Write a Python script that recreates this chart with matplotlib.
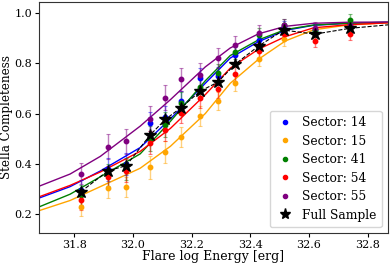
import matplotlib
matplotlib.use("Agg")
import matplotlib.pyplot as plt
from matplotlib.lines import Line2D

plt.rcParams['font.family'] = ['DejaVu Serif']

# ---- data ----
bins = [31.823, 31.915, 31.977, 32.059, 32.111, 32.164, 32.230, 32.289, 32.349, 32.429, 32.514, 32.620, 32.740]

sectors = ["14", "15", "41", "54", "55"]
colors = ["blue", "orange", "green", "red", "purple"]

s14 = [0.298, 0.379, 0.400, 0.561, 0.585, 0.648, 0.740, 0.750, 0.833, 0.892, 0.942, 0.930, 0.945]
s15 = [0.229, 0.303, 0.308, 0.387, 0.448, 0.508, 0.591, 0.650, 0.721, 0.817, 0.894, 0.920, 0.940]
s41 = [0.277, 0.356, 0.380, 0.500, 0.555, 0.640, 0.706, 0.760, 0.845, 0.911, 0.951, 0.930, 0.971]
s54 = [0.257, 0.347, 0.373, 0.485, 0.535, 0.603, 0.660, 0.698, 0.758, 0.850, 0.915, 0.889, 0.916]
s55 = [0.362, 0.468, 0.490, 0.579, 0.663, 0.736, 0.754, 0.820, 0.873, 0.920, 0.951, 0.940, 0.950]

e14 = [0.040, 0.045, 0.045, 0.045, 0.045, 0.040, 0.040, 0.035, 0.030, 0.030, 0.025, 0.025, 0.025]
e15 = [0.035, 0.040, 0.040, 0.045, 0.045, 0.040, 0.040, 0.035, 0.030, 0.030, 0.025, 0.025, 0.025]
e41 = [0.040, 0.045, 0.045, 0.050, 0.050, 0.045, 0.040, 0.035, 0.030, 0.030, 0.025, 0.025, 0.025]
e54 = [0.040, 0.045, 0.045, 0.045, 0.045, 0.040, 0.040, 0.035, 0.030, 0.030, 0.025, 0.025, 0.025]
e55 = [0.040, 0.050, 0.050, 0.050, 0.050, 0.045, 0.045, 0.040, 0.035, 0.030, 0.025, 0.025, 0.025]

full_x = bins + [32.90]
full_y = [0.290, 0.373, 0.393, 0.515, 0.577, 0.623, 0.689, 0.724, 0.796, 0.868, 0.931, 0.915, 0.938, 0.955]

# fitted completeness curves
curve_x = [31.681, 31.786, 31.889, 32.025, 32.128, 32.247, 32.332, 32.428, 32.520, 32.616, 32.732, 32.872]
c14 = [0.265, 0.310, 0.372, 0.465, 0.579, 0.720, 0.820, 0.885, 0.930, 0.950, 0.958, 0.962]
c15 = [0.215, 0.255, 0.310, 0.383, 0.470, 0.600, 0.720, 0.815, 0.888, 0.932, 0.951, 0.960]
c41 = [0.230, 0.280, 0.349, 0.440, 0.569, 0.730, 0.830, 0.892, 0.933, 0.951, 0.958, 0.962]
c54 = [0.270, 0.315, 0.368, 0.450, 0.541, 0.675, 0.780, 0.855, 0.905, 0.940, 0.952, 0.960]
c55 = [0.312, 0.360, 0.430, 0.550, 0.655, 0.785, 0.860, 0.916, 0.946, 0.958, 0.962, 0.963]

vals = [s14, s15, s41, s54, s55]
errs = [e14, e15, e41, e54, e55]
curves = [c14, c15, c41, c54, c55]

# ---- plot ----
fig = plt.figure(figsize=(3.9, 2.66), dpi=100)
ax = fig.add_axes([0.1, 0.123, 0.895, 0.871])

for c, cv in zip(colors, curves):
    ax.plot(curve_x, cv, color=c, lw=1.0, zorder=2)

for c, v, e in zip(colors, vals, errs):
    ax.errorbar(bins, v, yerr=e, fmt='none', ecolor=c, alpha=0.5, elinewidth=1.0,
                capsize=1.5, capthick=0.8, zorder=3)
    ax.plot(bins, v, 'o', color=c, ms=3.2, zorder=4)

ax.plot(full_x, full_y, '--', color='black', lw=0.8, zorder=5)
ax.plot(full_x, full_y, '*', color='black', ms=9, zorder=6)

ax.set_xlim(31.68, 32.87)
ax.set_ylim(0.125, 1.044)
ax.set_xticks([31.8, 32.0, 32.2, 32.4, 32.6, 32.8])
ax.set_yticks([0.2, 0.4, 0.6, 0.8, 1.0])
ax.tick_params(labelsize=8, length=3, width=0.8, pad=2)
ax.set_xlabel("Flare log Energy [erg]", fontsize=9, labelpad=0)
ax.set_ylabel("Stella Completeness", fontsize=8.6, labelpad=1)
for s in ax.spines.values():
    s.set_linewidth(0.8)
    s.set_color('0.2')

handles = [Line2D([], [], ls='none', marker='o', color=c, ms=3) for c in colors]
handles.append(Line2D([], [], ls='none', marker='*', color='black', ms=8))
labels = ["Sector: " + s for s in sectors] + ["Full Sample"]
ax.legend(handles, labels, loc='lower right', fontsize=8.8, frameon=True,
          borderpad=0.45, labelspacing=0.45, handletextpad=0.6, handlelength=1.6)

fig.savefig("out.png", dpi=100)
